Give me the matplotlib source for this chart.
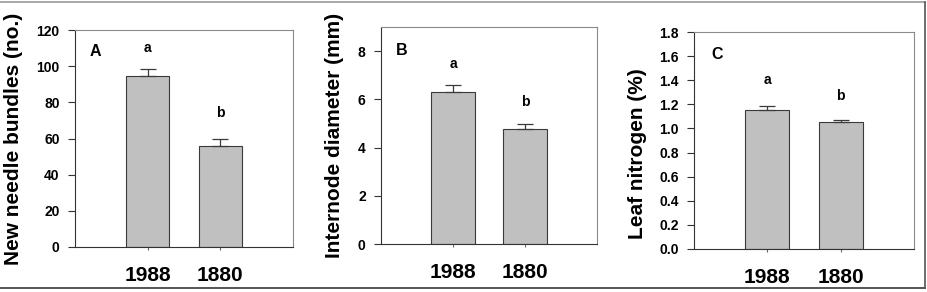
import matplotlib
matplotlib.use("Agg")
import matplotlib.pyplot as plt
from matplotlib.lines import Line2D
from matplotlib.transforms import blended_transform_factory

plt.rcParams['font.family'] = ['Liberation Sans', 'DejaVu Sans']
plt.rcParams['font.weight'] = 'bold'

years = ["1988", "1880"]

needles = [94.4, 55.9]
needles_err = [4.2, 3.7]
diameter = [6.32, 4.79]
diameter_err = [0.29, 0.18]
nitrogen = [1.15, 1.05]
nitrogen_err = [0.04, 0.02]

letters = ["a", "b"]
panel_ids = ["A", "B", "C"]
ylabels = ["New needle bundles (no.)", "Internode diameter (mm)", "Leaf nitrogen (%)"]

W, H = 928, 292
fig = plt.figure(figsize=(W / 100, H / 100), dpi=100)

# axes rectangles in pixels: left, top, right, bottom
rects = [(75, 30, 293, 247), (381, 27, 597, 244), (694, 32, 914, 249)]
ylims = [(0, 120), (0, 9), (0, 1.8)]
yticks = [[0, 20, 40, 60, 80, 100, 120], [0, 2, 4, 6, 8],
          [0.0, 0.2, 0.4, 0.6, 0.8, 1.0, 1.2, 1.4, 1.6, 1.8]]
ytickfmt = ["{:.0f}", "{:.0f}", "{:.1f}"]
label_pos = [(-0.239, 0.50), (-0.171, 0.50), (-0.214, 0.44)]
label_size = [15, 15, 15]
letter_y = [[110, 74.3], [7.46, 5.89], [1.40, 1.27]]
panel_pos = [(0.095, 108), (0.097, 8.02), (0.105, 1.61)]
data = [(needles, needles_err), (diameter, diameter_err), (nitrogen, nitrogen_err)]

for i in range(3):
    l, t, r, b = rects[i]
    ax = fig.add_axes([l / W, 1 - b / H, (r - l) / W, (b - t) / H])
    vals, errs = data[i]
    x = [1, 2]
    ax.bar(x, vals, width=0.6, color="#c0c0c0", edgecolor="#3a3a3a", linewidth=0.8, zorder=2)
    ax.errorbar(x, vals, yerr=[[0, 0], errs], fmt="none", ecolor="#3a3a3a",
                elinewidth=0.9, capsize=5.5, capthick=0.9, zorder=3)
    ax.set_xlim(0, 3)
    ax.set_ylim(*ylims[i])
    ax.set_yticks(yticks[i])
    ax.set_yticklabels([ytickfmt[i].format(v) for v in yticks[i]])
    ax.set_xticks(x)
    ax.set_xticklabels(years)
    ax.tick_params(axis='y', direction='out', length=5, width=0.8, pad=6,
                   labelsize=10, color="#333333")
    ax.tick_params(axis='x', direction='out', length=2.5, width=0.8, pad=11,
                   labelsize=15, color="#666666")
    for lab in ax.get_yticklabels() + ax.get_xticklabels():
        lab.set_fontweight('bold')
    for side in ['left', 'bottom']:
        ax.spines[side].set_color("#333333")
        ax.spines[side].set_linewidth(0.8)
    for side in ['top', 'right']:
        ax.spines[side].set_color("#8a8a8a")
        ax.spines[side].set_linewidth(0.8)
    ax.set_ylabel(ylabels[i], fontsize=label_size[i], fontweight='bold')
    ax.yaxis.set_label_coords(*label_pos[i])
    for j in range(2):
        ax.text(x[j], letter_y[i][j], letters[j], ha='center', va='center',
                fontsize=10, fontweight='bold')
    px, py = panel_pos[i]
    ax.text(px, py, panel_ids[i], ha='center', va='center', fontsize=11.5,
            fontweight='bold',
            transform=blended_transform_factory(ax.transAxes, ax.transData))

# figure frame lines
fig.add_artist(Line2D([0, 925.5 / W], [1 - 1.5 / H, 1 - 1.5 / H], color="#9a9a9a", lw=1.2,
                      transform=fig.transFigure))
fig.add_artist(Line2D([0, 925.5 / W], [1 - 287.5 / H, 1 - 287.5 / H], color="#555555", lw=1.4,
                      transform=fig.transFigure))
fig.add_artist(Line2D([925.5 / W, 925.5 / W], [1 - 1.5 / H, 1 - 287.5 / H], color="#555555", lw=1.2,
                      transform=fig.transFigure))

fig.savefig("out.png", dpi=100)
